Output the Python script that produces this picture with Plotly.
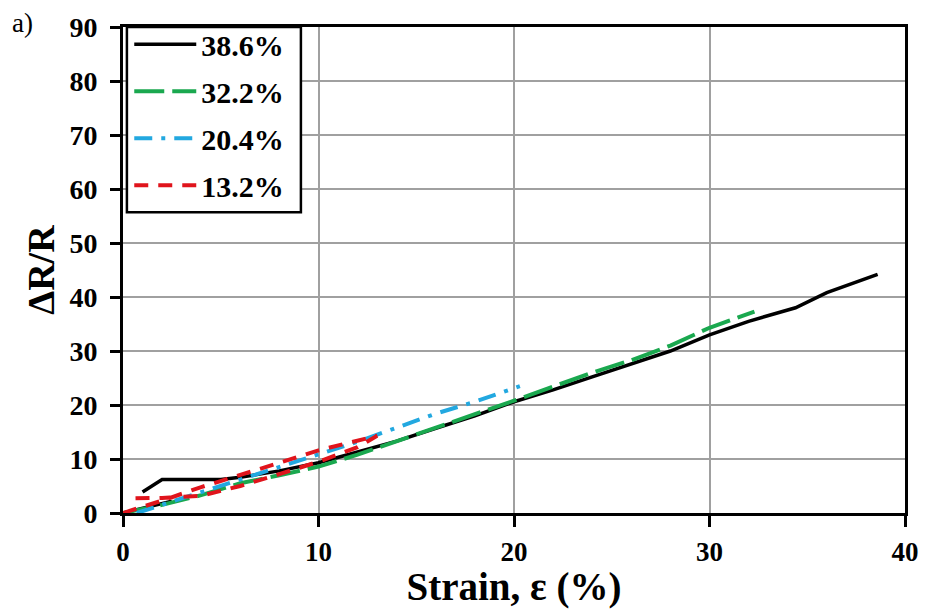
import plotly.graph_objects as go

# ---- data ----
black_label = "38.6%"
black_x = [0.0, 1.2, 2.5, None, 1.0, 2.0, 5.0, 6.0, 8.0, 10.0, 12.0, 14.0, 16.0, 18.0, 20.0, 22.0, 24.0, 26.0, 28.0, 30.0, 32.0, 34.4, 36.0, 38.6]
black_y = [0.0, 1.0, 2.2, None, 3.9, 6.2, 6.2, 6.6, 7.8, 9.3, 11.3, 13.3, 15.7, 18.0, 20.6, 22.8, 25.2, 27.6, 30.0, 33.0, 35.5, 38.0, 40.8, 44.2]

green_label = "32.2%"
green_x = [0.0, 2.0, 4.0, 6.0, 8.0, 10.0, 12.0, 14.0, 16.0, 18.0, 20.0, 22.0, 24.0, 26.0, 28.0, 30.0, 32.3]
green_y = [0.0, 1.5, 3.3, 5.5, 7.0, 8.6, 10.8, 13.3, 15.7, 18.3, 20.8, 23.4, 26.0, 28.3, 31.0, 34.3, 37.3]

blue_label = "20.4%"
blue_x = [0.7, 2.0, 4.0, 6.0, 8.0, 10.0, 12.0, 14.0, 16.0, 18.0, 20.3]
blue_y = [0.0, 1.5, 3.8, 6.2, 8.5, 10.8, 13.2, 15.8, 18.4, 20.6, 23.5]

red_label = "13.2%"
red_x = [0.0, 2.0, 4.0, 6.0, 8.0, 10.0, 12.0, 13.0, 12.0, 10.0, 8.0, 6.0, 4.0, 2.0, 0.3]
red_y = [0.0, 2.3, 4.8, 7.0, 9.3, 11.6, 13.5, 14.3, 12.2, 9.5, 7.2, 5.0, 3.2, 2.8, 2.7]

x_ticks = [0, 10, 20, 30, 40]
y_ticks = [0, 10, 20, 30, 40, 50, 60, 70, 80, 90]

FONT = "Liberation Serif"

fig = go.Figure()

series = [
    (black_label, black_x, black_y, "#000000", "solid", 3.5),
    (green_label, green_x, green_y, "#1aa84f", "30px,8px", 4),
    (blue_label, blue_x, blue_y, "#22a8e0", "18px,9px,4px,9px", 4),
    (red_label, red_x, red_y, "#e0141c", "14px,10px", 4),
]
for name, xs, ys, col, dash, w in series:
    fig.add_trace(go.Scatter(
        x=xs, y=ys, name=name, mode="lines", legendgroup=name,
        line=dict(color=col, width=w, dash=dash),
    ))

fig.update_layout(
    width=931, height=609,
    margin=dict(l=123, r=21, t=24, b=94),
    paper_bgcolor="white", plot_bgcolor="white",
    font=dict(family=FONT, color="black"),
    showlegend=True,
    legend=dict(
        x=0.008, y=1.018, xanchor="left", yanchor="top",
        bgcolor="rgba(0,0,0,0)", borderwidth=0,
        font=dict(family=FONT, size=30, color="black", weight="bold"),
        itemwidth=62, tracegroupgap=5,
    ),
    shapes=[dict(
        type="rect", xref="paper", yref="paper",
        x0=0.005, x1=0.2275, y0=0.619, y1=1.0,
        fillcolor="white", line=dict(color="black", width=2.5), layer="above",
    )],
    xaxis=dict(
        range=[0, 40], tickvals=x_ticks, ticktext=[str(v) for v in x_ticks],
        showgrid=True, gridcolor="#a0a0a0", gridwidth=1.5,
        showline=True, linecolor="black", linewidth=3, mirror=True,
        ticks="outside", ticklen=11, tickwidth=3, tickcolor="black",
        tickfont=dict(family=FONT, size=27, weight="bold"),
        ticklabelstandoff=2,
        zeroline=False,
        title=dict(text="Strain, ε (%)", font=dict(family=FONT, size=39, weight="bold"), standoff=2),
    ),
    yaxis=dict(
        range=[0, 90], tickvals=y_ticks, ticktext=[str(v) for v in y_ticks],
        showgrid=True, gridcolor="#a0a0a0", gridwidth=1.5,
        showline=True, linecolor="black", linewidth=3, mirror=True,
        ticks="outside", ticklen=10, tickwidth=3, tickcolor="black",
        tickfont=dict(family=FONT, size=28, weight="bold"),
        ticklabelstandoff=7,
        zeroline=False,
        title=dict(text="ΔR/R", font=dict(family=FONT, size=38, weight="bold"), standoff=4),
    ),
    annotations=[dict(
        text="a)", xref="paper", yref="paper", x=-0.145, y=1.008,
        xanchor="left", yanchor="middle", showarrow=False,
        font=dict(family=FONT, size=27, color="black"),
    )],
)

fig.write_html("out.html")
